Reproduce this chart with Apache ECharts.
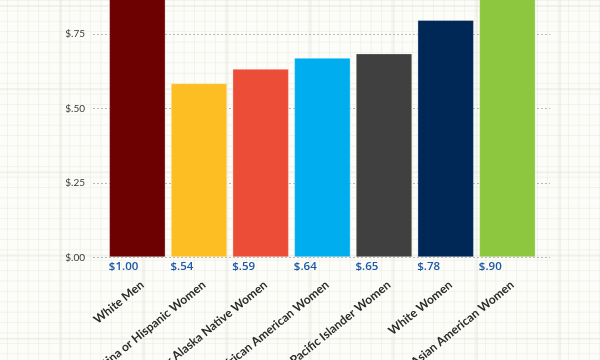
<!DOCTYPE html>
<html>
<head>
<meta charset="utf-8">
<script src="https://cdn.jsdelivr.net/npm/echarts@6/dist/echarts.min.js"></script>
<style>
html,body{margin:0;padding:0;}
#chart{
  width:600px;height:360px;
  background-color:#fcfcf9;
  background-image:
    linear-gradient(to right, rgba(225,228,215,0.45) 1.5px, transparent 1.5px),
    linear-gradient(to bottom, rgba(225,228,215,0.45) 1.5px, transparent 1.5px),
    linear-gradient(to right, rgba(232,234,224,0.55) 1px, transparent 1px),
    linear-gradient(to bottom, rgba(232,234,224,0.55) 1px, transparent 1px);
  background-size:83.2px 83.2px,83.2px 83.2px,10.4px 10.4px,10.4px 10.4px;
  background-position:60px 5px,60px 5px,7px 0px,7px 0px;
}
</style>
</head>
<body>
<div id="chart"></div>
<script>
var categories = ['White Men','Latina or Hispanic Women','American Indian or Alaska Native Women','African American Women','Native Hawaiian and Pacific Islander Women','White Women','Asian American Women'];
var barValues = [1.00, 0.585, 0.633, 0.670, 0.685, 0.797, 0.90];
var valueLabels = ['$1.00','$.54','$.59','$.64','$.65','$.78','$.90'];
var barColors = ['#6d0000','#fdbe24','#ec4d36','#00aeef','#404040','#002856','#8dc63f'];
var yTicks = {'0':'$.00','0.25':'$.25','0.5':'$.50','0.75':'$.75','1':'$1.00'};

var chart = echarts.init(document.getElementById('chart'), null, {renderer:'canvas'});
var gridTop = -40.4, gridBottom = 102.7;
chart.setOption({
  backgroundColor:'transparent',
  animation:false,
  grid:[
    {left:93,right:50,top:gridTop,bottom:gridBottom,outerBoundsMode:'none',containLabel:false},
    {left:106.5,right:61.8,top:gridTop,bottom:gridBottom,outerBoundsMode:'none',containLabel:false},
    {left:111.5,right:56.8,top:gridTop,bottom:gridBottom,outerBoundsMode:'none',containLabel:false}
  ],
  xAxis:[
    {gridIndex:0,type:'value',show:false,min:0,max:1},
    {gridIndex:1,type:'category',data:valueLabels,position:'bottom',
     axisLine:{show:false},axisTick:{show:false},
     axisLabel:{interval:0,margin:3,formatter:function(v){return '{a|'+v+'}';},
       rich:{a:{width:57,align:'left',fontFamily:'Open Sans',fontSize:11.5,fontWeight:600,color:'#1c58a6'}}}},
    {gridIndex:2,type:'category',data:categories,position:'bottom',
     axisLine:{show:false},axisTick:{show:false},
     axisLabel:{interval:0,rotate:39,margin:26,fontFamily:'Lato',fontSize:12,fontWeight:'bold',color:'#2a2a2a'}}
  ],
  yAxis:[
    {gridIndex:0,type:'value',min:0,max:1,interval:0.25,
     axisLine:{show:false},axisTick:{show:false},
     axisLabel:{margin:8,fontFamily:'Lato',fontSize:10,color:'#3a3a3a',
       formatter:function(v){return yTicks[String(Math.round(v*100)/100)]||'';}},
     splitLine:{show:true,lineStyle:{color:'#b8b8b8',width:1,type:[2,2]}}},
    {gridIndex:1,type:'value',min:0,max:1,show:false,splitLine:{show:false}},
    {gridIndex:2,type:'value',min:0,max:1,show:false,splitLine:{show:false}}
  ],
  series:[{
    type:'bar',xAxisIndex:1,yAxisIndex:1,barWidth:56.5,
    data:barValues.map(function(v,i){return {value:v,itemStyle:{color:barColors[i],borderColor:'rgba(255,255,255,0.3)',borderWidth:1}};})
  }]
});
</script>
</body>
</html>
